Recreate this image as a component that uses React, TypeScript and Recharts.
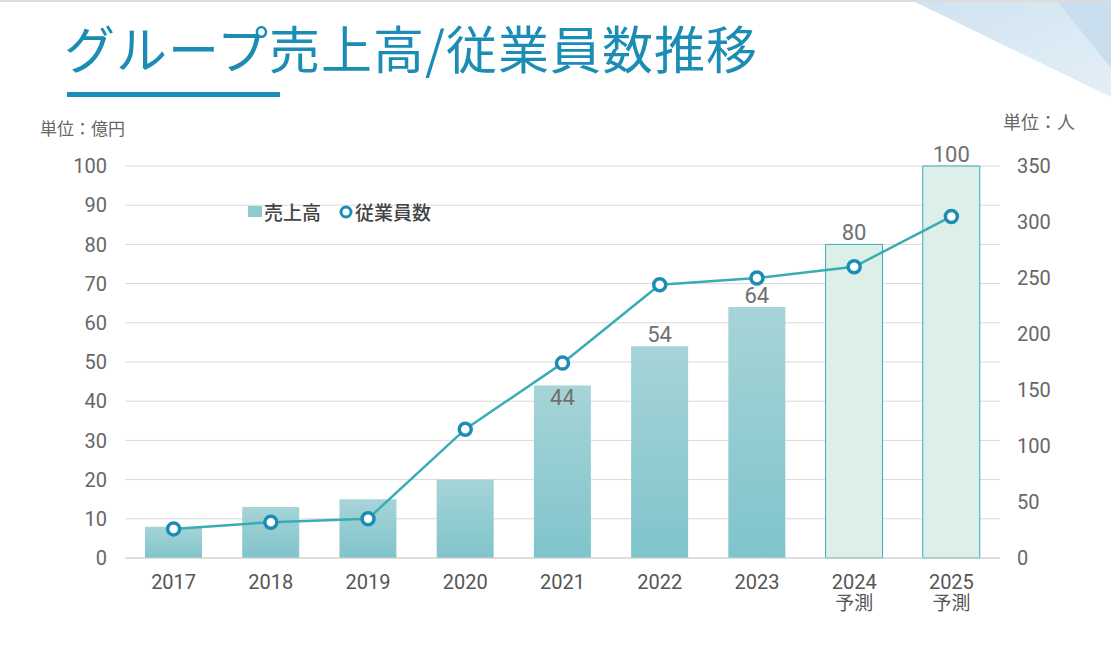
import {
  Bar,
  CartesianGrid,
  Cell,
  ComposedChart,
  LabelList,
  Line,
  XAxis,
  YAxis,
} from 'recharts';

const years = ['2017', '2018', '2019', '2020', '2021', '2022', '2023', '2024', '2025'];
const notes = ['', '', '', '', '', '', '', '予測', '予測'];
const sales = [8, 13, 15, 20, 44, 54, 64, 80, 100];
const employees = [26, 32, 35, 115, 174, 244, 250, 260, 305];
const salesTicks = [0, 10, 20, 30, 40, 50, 60, 70, 80, 90, 100];
const staffTicks = [0, 50, 100, 150, 200, 250, 300, 350];

const data = years.map((y, i) => ({
  year: y,
  note: notes[i],
  sales: sales[i],
  employees: employees[i],
}));

const FONT = "Roboto, 'Noto Sans CJK JP', sans-serif";
const BLUE = '#1b8cb3';
const LINE = '#3aacb3';

const YearTick = (props: any) => {
  const { x, y, payload, index } = props;
  return (
    <g>
      <text x={x} y={y + 25} textAnchor="middle" fill="#555" fontSize={20} fontFamily={FONT}>
        {payload.value}
      </text>
      {notes[index] ? (
        <text x={x} y={y + 46} textAnchor="middle" fill="#555" fontSize={19} fontFamily={FONT}>
          {notes[index]}
        </text>
      ) : null}
    </g>
  );
};

const SalesLabel = (props: any) => {
  const { x, y, width, value, index } = props;
  if (index < 4) return null;
  // 2021 label sits inside the bar to stay clear of the line
  const ly = index === 4 ? y + 19 : y - 4;
  return (
    <text x={x + width / 2} y={ly} textAnchor="middle" fill="#707070" fontSize={22} fontFamily={FONT}>
      {value}
    </text>
  );
};

export default function App() {
  return (
    <div style={{ position: 'absolute', left: 0, top: 0, width: 1111, height: 663, background: '#fff', overflow: 'hidden' }}>
      <svg width={1111} height={663} style={{ position: 'absolute', left: 0, top: 0 }}>
        <defs>
          <linearGradient id="deco1" x1="0" y1="0" x2="1" y2="1">
            <stop offset="0%" stopColor="#cfe3f0" />
            <stop offset="100%" stopColor="#e4eff7" />
          </linearGradient>
        </defs>
        <rect x={0} y={0} width={1111} height={2} fill="#dcdcdc" />
        <polygon points="915,2 1111,2 1111,97" fill="url(#deco1)" />
        <polygon points="1058,2 1111,2 1111,68" fill="#c9dfef" />
        <text x={64} y={69} fill={BLUE} fontSize={51} letterSpacing={1} fontFamily="'Noto Sans CJK JP', sans-serif">
          グループ売上高/従業員数推移
        </text>
        <rect x={67} y={92} width={213} height={5} fill={BLUE} />
        <text x={40} y={135} fill="#666" fontSize={17} fontFamily={FONT}>
          単位：億円
        </text>
        <text x={1003} y={129} fill="#666" fontSize={18} fontFamily={FONT}>
          単位：人
        </text>
      </svg>
      <div style={{ position: 'absolute', left: 0, top: 0 }}>
        <ComposedChart
          width={1111}
          height={663}
          data={data}
          margin={{ top: 166, right: 0, left: 0, bottom: 45 }}
          barCategoryGap="0%"
        >
          <defs>
            <linearGradient id="barFill" x1="0" y1="0" x2="0" y2="1">
              <stop offset="0%" stopColor="#a6d4d8" />
              <stop offset="100%" stopColor="#80c4cb" />
            </linearGradient>
          </defs>
          <CartesianGrid yAxisId="left" vertical={false} stroke="#d9d9d9" />
          <XAxis
            dataKey="year"
            height={60}
            axisLine={{ stroke: '#d0d0d0' }}
            tickLine={false}
            tickMargin={0}
            tick={<YearTick />}
            interval={0}
          />
          <YAxis
            yAxisId="left"
            orientation="left"
            width={125}
            domain={[0, 100]}
            ticks={salesTicks}
            axisLine={false}
            tickLine={false}
            tickMargin={12}
            tick={{ fill: '#666', fontSize: 20, fontFamily: FONT }}
          />
          <YAxis
            yAxisId="right"
            orientation="right"
            width={111}
            domain={[0, 350]}
            ticks={staffTicks}
            axisLine={false}
            tickLine={false}
            tickMargin={11}
            tick={{ fill: '#666', fontSize: 20, fontFamily: FONT, textAnchor: 'start' }}
          />
          <Bar dataKey="sales" name="売上高" yAxisId="left" barSize={57} fill="url(#barFill)" isAnimationActive={false}>
            {data.map((d) => (
              <Cell
                key={d.year}
                fill={d.note ? '#dcefe9' : 'url(#barFill)'}
                stroke={d.note ? LINE : 'none'}
                strokeWidth={1}
              />
            ))}
            <LabelList dataKey="sales" content={<SalesLabel />} />
          </Bar>
          <Line
            dataKey="employees"
            name="従業員数"
            yAxisId="right"
            type="linear"
            stroke={LINE}
            strokeWidth={2.5}
            dot={{ r: 6, fill: '#fff', stroke: BLUE, strokeWidth: 3.5 }}
            isAnimationActive={false}
          />
        </ComposedChart>
      </div>
      <div
        style={{
          position: 'absolute',
          left: 248,
          top: 198,
          display: 'flex',
          alignItems: 'center',
          fontFamily: FONT,
          fontSize: 19,
          fontWeight: 500,
          color: '#444',
          whiteSpace: 'nowrap',
        }}
      >
        <span style={{ width: 14, height: 11, background: '#8ecbd1', display: 'inline-block', marginRight: 2 }} />
        <span>売上高</span>
        <svg width={16} height={16} style={{ marginLeft: 17, marginRight: 1 }}>
          <circle cx={8} cy={8} r={5} fill="#fff" stroke={BLUE} strokeWidth={3} />
        </svg>
        <span>従業員数</span>
      </div>
    </div>
  );
}
